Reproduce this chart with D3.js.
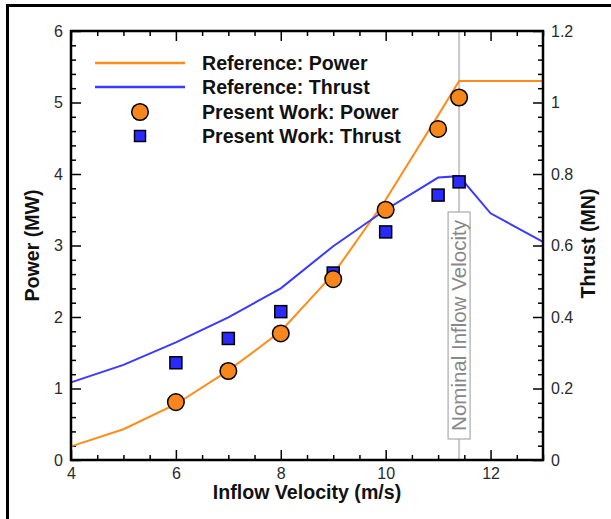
<!DOCTYPE html>
<html><head><meta charset="utf-8">
<script src="https://cdn.jsdelivr.net/npm/d3@7"></script>
<style>body{margin:0;background:#fff;} svg{display:block;font-family:"Liberation Sans",Arial,sans-serif;}</style>
</head><body>
<svg id="c" width="611" height="519"></svg>
<script>
// Data
const refVel = [4, 5, 6, 7, 8, 9, 10, 11, 11.4, 12, 13];
const refPower = [0.19, 0.43, 0.78, 1.25, 1.8, 2.6, 3.64, 4.82, 5.3, 5.3, 5.3];
const refThrust = [0.217, 0.266, 0.329, 0.399, 0.48, 0.598, 0.70, 0.79, 0.794, 0.69, 0.61];
const pwVel = [6, 7, 8, 9, 10, 11, 11.4];
const pwPower = [0.81, 1.245, 1.77, 2.53, 3.5, 4.63, 5.07];
const pwThrust = [0.272, 0.34, 0.415, 0.523, 0.638, 0.741, 0.778];
const xTicks = [4, 6, 8, 10, 12];
const powerTicks = [0, 1, 2, 3, 4, 5, 6];
const thrustTicks = [0, 0.2, 0.4, 0.6, 0.8, 1, 1.2];
const nominalVel = 11.4;
const legendLabels = ["Reference: Power", "Reference: Thrust", "Present Work: Power", "Present Work: Thrust"];

const L = 71, R = 543, T = 31, B = 460;
const orange = "#ff8c1a", orangeFill = "#f7861c", blue = "#3a3aff", blueFill = "#2a2aff";
const svg = d3.select("#c");

svg.append("rect").attr("x", 7.5).attr("y", 5.5).attr("width", 700).attr("height", 600)
  .attr("fill", "none").attr("stroke", "#000").attr("stroke-width", 3);

const x = d3.scaleLinear().domain([4, 13]).range([L, R]);
const yP = d3.scaleLinear().domain([0, 6]).range([B, T]);
const yT = d3.scaleLinear().domain([0, 1.2]).range([B, T]);

const minorX = d3.range(4, 13.001, 0.5).filter(v => Math.abs(v - Math.round(v / 2) * 2) > 1e-6);
const minorP = d3.range(0, 6.001, 0.2).filter(v => Math.abs(v - Math.round(v)) > 1e-6);
const minorT = d3.range(0, 1.2001, 0.04).filter(v => Math.abs(v / 0.2 - Math.round(v / 0.2)) > 1e-6);

function styleAxis(g) {
  g.select(".domain").remove();
  g.selectAll("line").attr("stroke", "#000").attr("stroke-width", 1.5);
  g.selectAll("text").attr("font-size", 16).attr("fill", "#2a2a2a").attr("font-family", "Liberation Sans, Arial, sans-serif");
}

// nominal velocity line
svg.append("line").attr("x1", x(nominalVel)).attr("x2", x(nominalVel)).attr("y1", T).attr("y2", B)
  .attr("stroke", "#c8c8c8").attr("stroke-width", 2);

// bottom
svg.append("g").attr("transform", `translate(0,${B})`)
  .call(d3.axisBottom(x).tickValues(xTicks).tickSize(-10).tickPadding(8).tickFormat(d3.format("d"))).call(styleAxis);
svg.append("g").attr("transform", `translate(0,${B})`)
  .call(d3.axisBottom(x).tickValues(minorX).tickSize(-5).tickFormat("")).call(styleAxis);
// top
svg.append("g").attr("transform", `translate(0,${T})`)
  .call(d3.axisTop(x).tickValues(xTicks).tickSize(-10).tickFormat("")).call(styleAxis);
svg.append("g").attr("transform", `translate(0,${T})`)
  .call(d3.axisTop(x).tickValues(minorX).tickSize(-5).tickFormat("")).call(styleAxis);
// left
svg.append("g").attr("transform", `translate(${L},0)`)
  .call(d3.axisLeft(yP).tickValues(powerTicks).tickSize(-10).tickPadding(8).tickFormat(d3.format("d"))).call(styleAxis);
svg.append("g").attr("transform", `translate(${L},0)`)
  .call(d3.axisLeft(yP).tickValues(minorP).tickSize(-5).tickFormat("")).call(styleAxis);
// right
svg.append("g").attr("transform", `translate(${R},0)`)
  .call(d3.axisRight(yT).tickValues(thrustTicks).tickSize(-10).tickPadding(8).tickFormat(d => d === 0 || d === 1 ? String(d) : d.toFixed(1))).call(styleAxis);
svg.append("g").attr("transform", `translate(${R},0)`)
  .call(d3.axisRight(yT).tickValues(minorT).tickSize(-5).tickFormat("")).call(styleAxis);

// nominal label box
const midY = 325.5;
const lg = svg.append("g").attr("transform", `translate(${x(nominalVel)},${midY}) rotate(-90)`);
lg.append("rect").attr("x", -113.5).attr("y", -11).attr("width", 227).attr("height", 22)
  .attr("fill", "#fff").attr("stroke", "#aaa").attr("stroke-width", 1.2);
lg.append("text").attr("x", 0).attr("y", 7).attr("text-anchor", "middle").attr("font-size", 20.5)
  .attr("fill", "#888").text("Nominal Inflow Velocity");

// lines
const lineP = d3.line().x((d, i) => x(refVel[i])).y(d => yP(d));
const lineT = d3.line().x((d, i) => x(refVel[i])).y(d => yT(d));
svg.append("path").attr("d", lineP(refPower)).attr("fill", "none").attr("stroke", orange).attr("stroke-width", 2);
svg.append("path").attr("d", lineT(refThrust)).attr("fill", "none").attr("stroke", blue).attr("stroke-width", 2);

// markers
svg.append("g").selectAll("rect").data(pwThrust).join("rect")
  .attr("x", (d, i) => x(pwVel[i]) - 6).attr("y", d => yT(d) - 6).attr("width", 12).attr("height", 12)
  .attr("fill", blueFill).attr("stroke", "#000").attr("stroke-width", 1.5);
svg.append("g").selectAll("circle").data(pwPower).join("circle")
  .attr("cx", (d, i) => x(pwVel[i])).attr("cy", d => yP(d)).attr("r", 8.3)
  .attr("fill", orangeFill).attr("stroke", "#000").attr("stroke-width", 1.5);

// plot frame
svg.append("rect").attr("x", L).attr("y", T).attr("width", R - L).attr("height", B - T)
  .attr("fill", "none").attr("stroke", "#000").attr("stroke-width", 2.5);

// legend
const legY = [63, 87, 112, 136];
svg.append("line").attr("x1", 95).attr("x2", 185).attr("y1", legY[0]).attr("y2", legY[0]).attr("stroke", orange).attr("stroke-width", 2.5);
svg.append("line").attr("x1", 95).attr("x2", 185).attr("y1", legY[1]).attr("y2", legY[1]).attr("stroke", blue).attr("stroke-width", 2.5);
svg.append("circle").attr("cx", 140).attr("cy", legY[2]).attr("r", 8.3).attr("fill", orangeFill).attr("stroke", "#000").attr("stroke-width", 1.5);
svg.append("rect").attr("x", 134.5).attr("y", legY[3] - 5.5).attr("width", 11).attr("height", 11).attr("fill", blueFill).attr("stroke", "#000").attr("stroke-width", 1.5);
svg.append("g").selectAll("text").data(legendLabels).join("text")
  .attr("x", 202).attr("y", (d, i) => legY[i] + 7).attr("font-size", 19.6).attr("font-weight", "bold").attr("fill", "#111").text(d => d);

// axis titles
svg.append("text").attr("x", 307).attr("y", 499).attr("text-anchor", "middle")
  .attr("font-size", 19.6).attr("font-weight", "bold").attr("fill", "#111").text("Inflow Velocity (m/s)");
svg.append("text").attr("transform", `translate(39,${(T + B) / 2}) rotate(-90)`).attr("text-anchor", "middle")
  .attr("font-size", 19.6).attr("font-weight", "bold").attr("fill", "#111").text("Power (MW)");
svg.append("text").attr("transform", `translate(595,${(T + B) / 2 - 2}) rotate(-90)`).attr("text-anchor", "middle")
  .attr("font-size", 19.6).attr("font-weight", "bold").attr("fill", "#111").text("Thrust (MN)");
</script>
</body></html>
